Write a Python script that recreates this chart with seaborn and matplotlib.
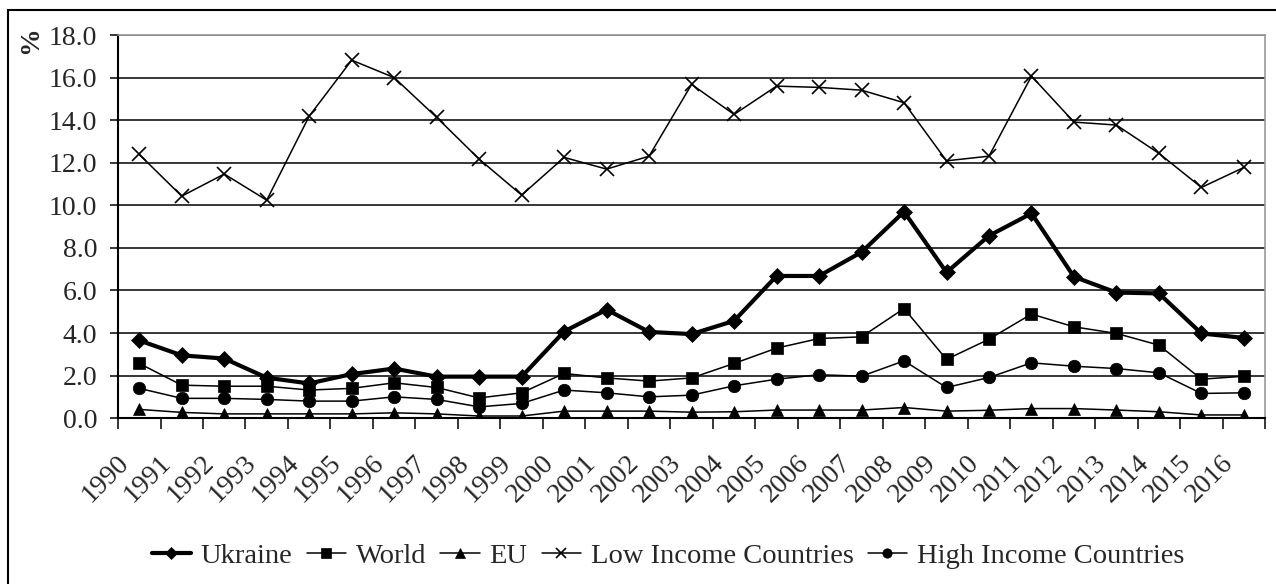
import pandas as pd
import numpy as np
import matplotlib.pyplot as plt
import matplotlib.transforms as mtransforms
import seaborn as sns
from matplotlib.patches import Rectangle

# data (%)
years = [str(y) for y in range(1990, 2017)]
ukraine = [3.65, 2.95, 2.8, 1.9, 1.63, 2.07, 2.33, 1.95, 1.95, 1.95, 4.07, 5.1, 4.05, 3.95, 4.57,
           6.68, 6.68, 7.8, 9.7, 6.85, 8.57, 9.62, 6.64, 5.9, 5.86, 3.98, 3.77]
world = [2.57, 1.55, 1.5, 1.5, 1.32, 1.4, 1.66, 1.44, 0.95, 1.19, 2.1, 1.89, 1.74, 1.89, 2.57,
         3.29, 3.74, 3.82, 5.15, 2.76, 3.71, 4.89, 4.29, 3.98, 3.43, 1.83, 1.97]
eu = [0.41, 0.27, 0.2, 0.2, 0.2, 0.2, 0.25, 0.2, 0.1, 0.1, 0.33, 0.33, 0.33, 0.28, 0.3,
      0.38, 0.38, 0.38, 0.5, 0.33, 0.37, 0.45, 0.45, 0.38, 0.3, 0.15, 0.15]
low_income = [12.39, 10.43, 11.47, 10.24, 14.19, 16.82, 16.0, 14.13, 12.17, 10.48, 12.25, 11.7,
              12.31, 15.68, 14.27, 15.6, 15.54, 15.41, 14.82, 12.09, 12.31, 16.07, 13.91, 13.77,
              12.44, 10.84, 11.78]
high_income = [1.4, 0.93, 0.93, 0.88, 0.8, 0.8, 1.0, 0.88, 0.53, 0.69, 1.32, 1.19, 1.0, 1.08, 1.52,
               1.83, 2.04, 1.97, 2.69, 1.44, 1.91, 2.6, 2.44, 2.33, 2.13, 1.16, 1.19]

names = ["Ukraine", "World", "EU", "Low Income Countries", "High Income Countries"]
series = [ukraine, world, eu, low_income, high_income]
df = pd.DataFrame({"pos": np.tile(np.arange(len(years)), len(names)),
                   "value": np.concatenate(series),
                   "country": np.repeat(names, len(years))})

sns.set_style("white")
plt.rcParams["font.family"] = ["Liberation Serif", "DejaVu Serif"]

fig = plt.figure(figsize=(12.76, 5.84), dpi=100)
ax = fig.add_axes([0.0925, 0.284, 0.899, 0.656])

styles = {
    "Ukraine": dict(marker="D", lw=3.0, ms=8),
    "World": dict(marker="s", lw=1.1, ms=9),
    "EU": dict(marker="^", lw=1.1, ms=9),
    "Low Income Countries": dict(marker="x", lw=1.1, ms=10, mew=1.2),
    "High Income Countries": dict(marker="o", lw=1.1, ms=9),
}
for name in names:
    st = styles[name]
    sns.lineplot(data=df[df["country"] == name], x="pos", y="value", ax=ax, color="black",
                 linewidth=st["lw"], marker=st["marker"], markersize=st["ms"],
                 markeredgewidth=st.get("mew", 0.5), markeredgecolor="black",
                 label=name, zorder=3)

ax.set_ylim(0, 18)
ax.set_yticks(np.arange(0, 18.1, 2))
ax.set_yticklabels([f"{v:.1f}" for v in np.arange(0, 18.1, 2)], fontsize=20)
ax.yaxis.grid(True, color="black", linewidth=1.1)
ax.set_axisbelow(True)

ax.set_xlim(-0.5, len(years) - 0.5)
ax.set_xticks(np.arange(-0.5, len(years), 1))
ax.set_xticklabels([])
ax.set_xticks(np.arange(len(years)), minor=True)
ax.set_xticklabels(years, minor=True, rotation=45, ha="right", rotation_mode="anchor", fontsize=20)
ax.tick_params(axis="x", which="major", direction="out", length=8, width=1.1, color="black", bottom=True)
ax.tick_params(axis="x", which="minor", length=0, pad=23)
ax.tick_params(axis="y", direction="out", length=6, width=1.1, color="black", left=True, pad=9)
shift = mtransforms.ScaledTranslation(-0.23, 0, fig.dpi_scale_trans)
for lbl in ax.get_xticklabels(minor=True):
    lbl.set_transform(lbl.get_transform() + shift)
ax.set_xlabel("")
ax.set_ylabel("")

for side in ["left", "bottom"]:
    ax.spines[side].set_color("black")
    ax.spines[side].set_linewidth(1.5)
for side in ["top", "right"]:
    ax.spines[side].set_color("#999999")
    ax.spines[side].set_linewidth(1.2)

fig.text(0.024, 0.932, "%", rotation=90, fontsize=20, fontweight="bold", ha="center", va="center")

ax.legend(loc="center", bbox_to_anchor=(0.5235, 0.048), bbox_transform=fig.transFigure, ncol=5,
          frameon=False, fontsize=20.5, handlelength=1.37, columnspacing=0.5, handletextpad=0.35,
          markerscale=0.75, borderpad=0)

# outer frame
fig.patches.append(Rectangle((8 / 1276, -0.05), 1.2, 0.05 + (584 - 10) / 584, transform=fig.transFigure,
                             fill=False, edgecolor="black", linewidth=1.5, zorder=0))

fig.savefig("out.png", dpi=100)
